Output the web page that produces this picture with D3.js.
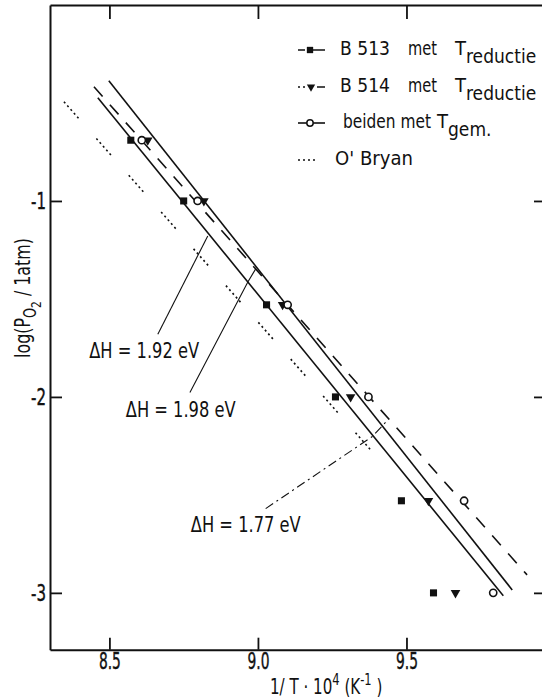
<!DOCTYPE html>
<html>
<head>
<meta charset="utf-8">
<script src="https://cdn.jsdelivr.net/npm/d3@7"></script>
<style>
  body { margin: 0; background: #fff; }
  svg { display: block; }
  text { font-family: 'DejaVu Sans Condensed', 'Liberation Sans', sans-serif; fill: #111; }
</style>
</head>
<body>
<div id="chart"></div>
<script>

// values
const xTicks = [8.5, 9.0, 9.5];
const yTicks = [-1, -2, -3];

const logP = [-0.69, -1.0, -1.53, -2.0, -2.53, -3.0];
const b513 = [8.572, 8.750, 9.029, 9.261, 9.483, 9.591];
const b514 = [8.629, 8.818, 9.083, 9.312, 9.574, 9.665];
const beiden = [8.609, 8.797, 9.100, 9.372, 9.694, 9.792];

// fitted lines, [1/T, log p] end points
const line192 = [[8.461, -0.473], [9.826, -3.015]];
const line198 = [[8.498, -0.386], [9.856, -2.985]];
const lineGem = [[8.448, -0.417], [9.906, -2.908]];
const lineOBryan = [[8.347, -0.494], [9.423, -2.345]];

const legendNames = ['B 513', 'B 514', 'beiden met', "O' Bryan"];

const annotations = [
    { label: 'ΔH = 1.92 eV', at: [8.432, -1.80], leader: [[8.663, -1.680], [8.831, -1.179]] },
    { label: 'ΔH = 1.98 eV', at: [8.555, -2.10], leader: [[8.771, -1.977], [8.966, -1.414], [8.992, -1.348]] },
    { label: 'ΔH = 1.77 eV', at: [8.774, -2.69], leader: [[9.026, -2.570], [9.385, -2.202], [9.439, -2.115]] }
];

let width = 542;
let height = 700;

let x = d3.scaleLinear().domain([8.3, 10.0]).range([50, 555]);
let y = d3.scaleLinear().domain([-3.29, 0]).range([649.7, 5]);

let svg = d3.select('#chart').append('svg')
    .attr('width', width)
    .attr('height', height);

let line = d3.line().x(d => x(d[0])).y(d => y(d[1]));

// squeeze a text to the narrow lettering of the original
function squeeze(sel, x0, y0, len) {
    let w = sel.node().getComputedTextLength();
    sel.attr('transform', `translate(${x0},${y0}) scale(${len / w},1)`);
}

// AXES
let fmt = d => (d < 0 ? '-' : '') + Math.abs(d);

let left = svg.append('g')
    .attr('transform', `translate(${x(8.3)},0)`)
    .call(d3.axisLeft(y).tickValues(yTicks).tickSizeInner(-12).tickSizeOuter(0).tickPadding(4).tickFormat(fmt));

let bottom = svg.append('g')
    .attr('transform', `translate(0,${y(-3.29)})`)
    .call(d3.axisBottom(x).tickValues(xTicks).tickSizeInner(-12).tickSizeOuter(0).tickPadding(3).tickFormat(d3.format('.1f')));

svg.append('g')
    .attr('transform', `translate(0,${y(0)})`)
    .call(d3.axisTop(x).tickValues(xTicks).tickSizeInner(-14).tickSizeOuter(0).tickFormat(''));

svg.append('g')
    .attr('transform', `translate(${x(10.0)},0)`)
    .call(d3.axisRight(y).tickValues(yTicks).tickSizeInner(-21).tickSizeOuter(0).tickFormat(''));

svg.selectAll('.domain').attr('stroke', '#111').attr('stroke-width', 2);
svg.selectAll('.tick line').attr('stroke', '#111').attr('stroke-width', 1.8);
svg.selectAll('.tick text').attr('font-size', 23).attr('fill', '#111')
    .attr('stroke', '#111').attr('stroke-width', 0.4)
    .style('font-family', "'DejaVu Sans Condensed', sans-serif");

left.selectAll('.tick text').each(function () {
    let w = this.getComputedTextLength();
    d3.select(this).attr('x', 0).attr('transform', `translate(-4,0) scale(${15 / w},1)`);
});
bottom.selectAll('.tick text').each(function () {
    let w = this.getComputedTextLength();
    d3.select(this).attr('transform', `scale(${22 / w},1)`);
});

// axis titles
svg.append('text')
    .attr('transform', 'translate(270,694) scale(0.8,1)')
    .attr('font-size', 21)
    .call(t => {
        t.append('tspan').text('1/ T · 10');
        t.append('tspan').attr('dy', -9).attr('font-size', 16).text('4');
        t.append('tspan').attr('dy', 9).text(' (K');
        t.append('tspan').attr('dy', -9).attr('font-size', 16).text('-1');
        t.append('tspan').attr('dy', 9).text(' )');
    });

svg.append('text')
    .attr('transform', 'translate(30,298) rotate(-90) scale(0.84,1)')
    .attr('text-anchor', 'middle')
    .attr('font-size', 21)
    .call(t => {
        t.append('tspan').text('log(P');
        t.append('tspan').attr('dy', 6).attr('font-size', 17).text('O');
        t.append('tspan').attr('dy', 5).attr('font-size', 14).text('2');
        t.append('tspan').attr('dy', -11).text(' / 1atm)');
    });

// FIT LINES
let plot = svg.append('g').attr('fill', 'none').attr('stroke', '#111');

plot.append('path').attr('d', line(line192)).attr('stroke-width', 1.6);
plot.append('path').attr('d', line(line198)).attr('stroke-width', 1.6);
plot.append('path').attr('d', line(lineGem)).attr('stroke-width', 1.6).attr('stroke-dasharray', '13,11');
plot.append('path').attr('d', line(lineOBryan)).attr('stroke-width', 1.6)
    .attr('stroke-dasharray', '2,3,2,3,2,3,2,3,2,27');

// leaders
annotations.forEach((a, i) => {
    plot.append('path')
        .attr('d', line(a.leader))
        .attr('stroke-width', 1.1)
        .attr('stroke-dasharray', i == 2 ? '9,4,2,4' : null);

    svg.append('text')
        .attr('font-size', 22)
        .text(a.label)
        .call(squeeze, x(a.at[0]), y(a.at[1]), 110);
});

// POINTS
let pts = svg.append('g');

pts.selectAll('.sq')
    .data(d3.zip(b513, logP))
    .join('path')
    .attr('class', 'sq')
    .attr('transform', d => `translate(${x(d[0])},${y(d[1])})`)
    .attr('d', d3.symbol(d3.symbolSquare, 50))
    .attr('fill', '#111');

pts.selectAll('.tri')
    .data(d3.zip(b514, logP))
    .join('path')
    .attr('class', 'tri')
    .attr('transform', d => `translate(${x(d[0])},${y(d[1])}) rotate(180)`)
    .attr('d', d3.symbol(d3.symbolTriangle, 40))
    .attr('fill', '#111');

pts.selectAll('.circ')
    .data(d3.zip(beiden, logP))
    .join('circle')
    .attr('class', 'circ')
    .attr('cx', d => x(d[0]))
    .attr('cy', d => y(d[1]))
    .attr('r', 3.6)
    .attr('fill', '#fff')
    .attr('stroke', '#111')
    .attr('stroke-width', 1.6);

// LEGEND
let legend = svg.append('g').attr('transform', 'translate(298,0)');
let rows = [50, 87, 123, 160];

legend.append('path').attr('d', `M0,${rows[0]}H27`).attr('stroke', '#111').attr('stroke-width', 1.6).attr('stroke-dasharray', '7,3,17');
legend.append('path').attr('transform', `translate(12,${rows[0]})`).attr('d', d3.symbol(d3.symbolSquare, 40)).attr('fill', '#111');

legend.append('path').attr('d', `M0,${rows[1]}H27`).attr('stroke', '#111').attr('stroke-width', 1.6).attr('stroke-dasharray', '2,3,2,12,8');
legend.append('path').attr('transform', `translate(13,${rows[1]}) rotate(180)`).attr('d', d3.symbol(d3.symbolTriangle, 30)).attr('fill', '#111');

legend.append('path').attr('d', `M0,${rows[2]}H27`).attr('stroke', '#111').attr('stroke-width', 1.6);
legend.append('circle').attr('cx', 12).attr('cy', rows[2]).attr('r', 3.2).attr('fill', '#fff').attr('stroke', '#111').attr('stroke-width', 1.5);

legend.append('path').attr('d', `M0,${rows[3]}H17`).attr('stroke', '#111').attr('stroke-width', 1.6).attr('stroke-dasharray', '2,3');

let legendText = (row, parts) => {
    parts.forEach(p => {
        let t = legend.append('text').attr('font-size', 20);
        if (p.sub) {
            t.attr('x', p.x).attr('y', rows[row] + 5);
            t.append('tspan').text(p.text);
            t.append('tspan').attr('dy', 8).attr('font-size', 19).text(p.sub);
        } else {
            t.text(p.text).call(squeeze, p.x, rows[row] + 5, p.len);
        }
    });
};

legendText(0, [{ x: 42, text: legendNames[0], len: 50 }, { x: 110, text: 'met', len: 29 }, { x: 157, text: 'T', sub: 'reductie' }]);
legendText(1, [{ x: 42, text: legendNames[1], len: 50 }, { x: 110, text: 'met', len: 29 }, { x: 157, text: 'T', sub: 'reductie' }]);
legendText(2, [{ x: 45, text: legendNames[2], len: 88 }, { x: 139, text: 'T', sub: 'gem.' }]);
legendText(3, [{ x: 37, text: legendNames[3], len: 78 }]);

</script>
</body>
</html>
